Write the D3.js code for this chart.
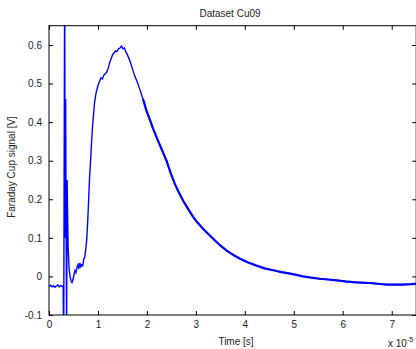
<!DOCTYPE html>
<html>
<head>
<meta charset="utf-8">
<script src="https://cdnjs.cloudflare.com/ajax/libs/d3/7.8.5/d3.min.js"></script>
<style>
  body { margin: 0; background: #fff; }
  text { font-family: "Liberation Sans", Arial, sans-serif; fill: #222; }
</style>
</head>
<body>
<div id="chart"></div>
<script>
// time in units of 1e-5 s
var time = [0, 0.03, 0.06, 0.09, 0.12, 0.15, 0.18, 0.21, 0.24, 0.27, 0.29,
  0.30, 0.32, 0.33, 0.34, 0.35, 0.36, 0.37, 0.39, 0.41, 0.43, 0.45, 0.47, 0.49,
  0.51, 0.53, 0.55, 0.57, 0.59, 0.61, 0.63, 0.65, 0.67, 0.69, 0.71, 0.73, 0.75,
  0.77, 0.79, 0.81, 0.83, 0.85, 0.87, 0.89, 0.91, 0.93, 0.96, 1.00, 1.03, 1.06,
  1.09, 1.12, 1.15, 1.18, 1.21, 1.24, 1.27, 1.30, 1.33, 1.36, 1.39, 1.42, 1.45,
  1.48, 1.51, 1.54, 1.57, 1.60, 1.65, 1.70, 1.75, 1.80, 1.86, 1.92, 1.99, 2.05,
  2.12, 2.20, 2.30, 2.40, 2.48, 2.57, 2.65, 2.74, 2.85, 2.95, 3.05, 3.15, 3.27,
  3.39, 3.51, 3.63, 3.76, 3.90, 4.07, 4.24, 4.40, 4.58, 4.75, 4.90, 5.05, 5.19,
  5.35, 5.53, 5.70, 5.87, 6.05, 6.21, 6.38, 6.55, 6.72, 6.89, 7.06, 7.23, 7.40, 7.5];
var signal = [-0.026, -0.023, -0.027, -0.024, -0.028, -0.025, -0.022, -0.027, -0.024, -0.026, -0.025,
  -0.2, 0.8, 0.10, 0.46, 0.12, -0.15, 0.25, 0.08, 0.02, 0.0, -0.012, -0.016, -0.008,
  0.005, 0.015, 0.01, 0.022, 0.03, 0.02, 0.035, 0.025, 0.03, 0.028, 0.045, 0.05, 0.07,
  0.095, 0.14, 0.2, 0.26, 0.30, 0.35, 0.39, 0.42, 0.45, 0.475, 0.495, 0.505, 0.515,
  0.512, 0.522, 0.525, 0.53, 0.54, 0.555, 0.565, 0.575, 0.58, 0.585, 0.583, 0.59, 0.592,
  0.597, 0.59, 0.592, 0.582, 0.575, 0.56, 0.54, 0.52, 0.505, 0.483, 0.46, 0.43, 0.41,
  0.385, 0.36, 0.33, 0.30, 0.27, 0.24, 0.218, 0.196, 0.173, 0.153, 0.137, 0.123, 0.108,
  0.093, 0.079, 0.067, 0.056, 0.046, 0.036, 0.028, 0.021, 0.016, 0.011, 0.008, 0.004, 0.0,
  -0.003, -0.006, -0.008, -0.010, -0.013, -0.015, -0.016, -0.017, -0.019, -0.021, -0.021, -0.021, -0.020, -0.019];
var xTicks = [0, 1, 2, 3, 4, 5, 6, 7];
var yTicks = [-0.1, 0, 0.1, 0.2, 0.3, 0.4, 0.5, 0.6];

var W = 416, H = 349;
var margin = {top: 25.7, right: 0, bottom: 34, left: 49};
var width = 416.2 - margin.left, height = 315 - margin.top;

var svg = d3.select("#chart").append("svg")
  .attr("width", W).attr("height", H);

var g = svg.append("g")
  .attr("transform", "translate(" + margin.left + "," + margin.top + ")");

var x = d3.scaleLinear().domain([0, 7.5]).range([0, width]);
var y = d3.scaleLinear().domain([-0.1, 0.65]).range([height, 0]);

svg.append("defs").append("clipPath").attr("id", "clip")
  .append("rect").attr("width", width).attr("height", height);

// axes, MATLAB style ticks inside
function styleAxis(sel) {
  sel.select(".domain").remove();
  sel.selectAll("line").attr("stroke", "#000");
  sel.selectAll("text").attr("font-size", "10px").attr("fill", "#222")
    .attr("font-family", "'Liberation Sans', Arial, sans-serif");
}
function yfmt(d) {
  return String(+d.toFixed(1));
}
g.append("g").attr("transform", "translate(0," + height + ")")
  .call(d3.axisBottom(x).tickValues(xTicks).tickFormat(d3.format("d")).tickSizeInner(-4).tickSizeOuter(0).tickPadding(6))
  .call(styleAxis);
g.append("g")
  .call(d3.axisTop(x).tickValues(xTicks).tickFormat("").tickSizeInner(-4).tickSizeOuter(0))
  .call(styleAxis);
g.append("g")
  .call(d3.axisLeft(y).tickValues(yTicks).tickFormat(yfmt).tickSizeInner(-4).tickSizeOuter(0).tickPadding(7))
  .call(styleAxis);
g.append("g").attr("transform", "translate(" + width + ",0)")
  .call(d3.axisRight(y).tickValues(yTicks).tickFormat("").tickSizeInner(-4).tickSizeOuter(0))
  .call(styleAxis);

g.append("rect").attr("width", width).attr("height", height)
  .attr("fill", "none").attr("stroke", "#000").attr("stroke-width", 1);

var pts = time.map(function(t, i){ return [t, signal[i]]; });
var line = d3.line().x(function(d){ return x(d[0]); }).y(function(d){ return y(d[1]); });

g.append("path").datum(pts)
  .attr("clip-path", "url(#clip)")
  .attr("fill", "none").attr("stroke", "#0000ff").attr("stroke-width", 1.4)
  .attr("d", line);
// noisy tail looks thicker
g.append("path").datum(pts.filter(function(d){ return d[0] >= 1.9; }))
  .attr("clip-path", "url(#clip)")
  .attr("fill", "none").attr("stroke", "#0000ff").attr("stroke-width", 2.2)
  .attr("d", line);

svg.append("text").attr("x", 230).attr("y", 17).attr("text-anchor", "middle")
  .attr("font-size", "10px").text("Dataset Cu09");
svg.append("text").attr("x", 236).attr("y", 345).attr("text-anchor", "middle")
  .attr("font-size", "10px").text("Time [s]");
svg.append("text").attr("transform", "translate(15,167) rotate(-90)")
  .attr("text-anchor", "middle").attr("font-size", "10px").text("Faraday Cup signal [V]");
var ex = svg.append("text").attr("x", 388).attr("y", 347).attr("font-size", "10px");
ex.append("tspan").text("x 10");
ex.append("tspan").attr("dy", -5).attr("font-size", "7px").text("-5");
</script>
</body>
</html>
